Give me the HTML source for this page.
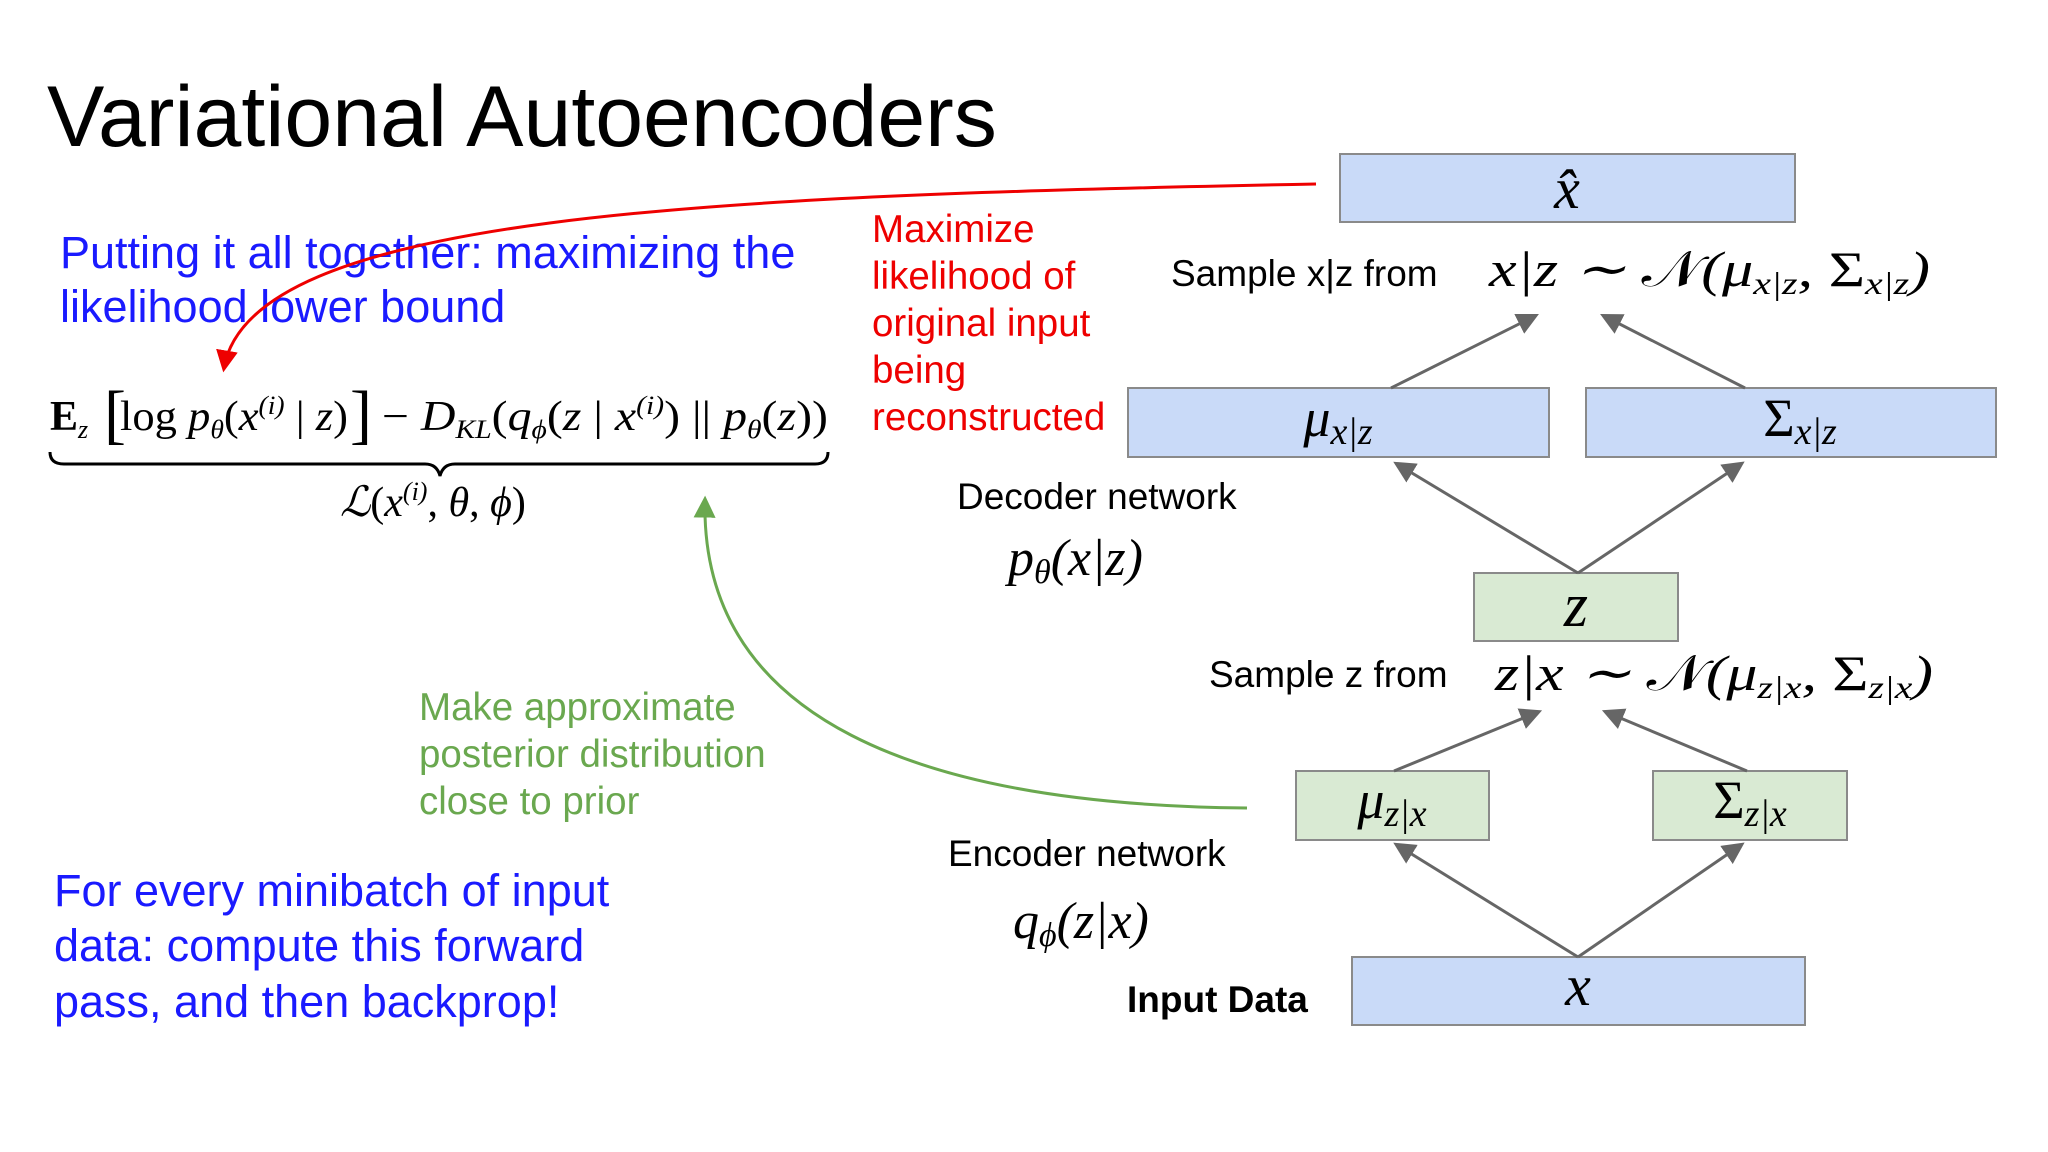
<!DOCTYPE html>
<html><head><meta charset="utf-8"><style>
html,body{margin:0;padding:0;background:#fff}
svg{display:block}
.s{font-family:"Liberation Sans",sans-serif}
.m{font-family:"Liberation Serif",serif;font-style:italic}
</style></head><body>
<svg width="2048" height="1152" viewBox="0 0 2048 1152" xmlns="http://www.w3.org/2000/svg">
<defs>
<marker id="gA" viewBox="0 0 10 10" refX="8" refY="5" markerWidth="22" markerHeight="22" orient="auto" markerUnits="userSpaceOnUse"><path d="M0,0 L10,5 L0,10 z" fill="#6aa84f"/></marker>
<marker id="rA" viewBox="0 0 10 10" refX="8" refY="5" markerWidth="22" markerHeight="22" orient="auto" markerUnits="userSpaceOnUse"><path d="M0,0 L10,5 L0,10 z" fill="#e00"/></marker>
<marker id="gr" viewBox="0 0 10 10" refX="8" refY="5" markerWidth="22" markerHeight="22" orient="auto" markerUnits="userSpaceOnUse"><path d="M0,0 L10,5 L0,10 z" fill="#666"/></marker>
</defs>

<text x="47" y="146" class="s" font-size="86" fill="#000">Variational Autoencoders</text>

<g class="s" font-size="45" fill="#1a1aff">
<text x="60" y="268">Putting it all together: maximizing the</text>
<text x="60" y="322">likelihood lower bound</text>
<text x="54" y="906">For every minibatch of input</text>
<text x="54" y="961">data: compute this forward</text>
<text x="54" y="1017">pass, and then backprop!</text>
</g>

<g class="s" font-size="38.5" fill="#e00">
<text x="872" y="242">Maximize</text>
<text x="872" y="289">likelihood of</text>
<text x="872" y="336">original input</text>
<text x="872" y="383">being</text>
<text x="872" y="430">reconstructed</text>
</g>

<g class="s" font-size="38.5" fill="#6aa84f">
<text x="419" y="720">Make approximate</text>
<text x="419" y="767">posterior distribution</text>
<text x="419" y="814">close to prior</text>
</g>

<!-- equation -->
<g font-family="Liberation Serif,serif" font-size="42" fill="#000">
<text x="50" y="430"><tspan font-weight="bold">E</tspan><tspan font-style="italic" font-size="26" dy="8">z</tspan></text>
<text x="104" y="436" font-size="66">[</text>
<text x="120" y="430" textLength="228" lengthAdjust="spacingAndGlyphs">log <tspan font-style="italic">p</tspan><tspan font-style="italic" font-size="26" dy="8">θ</tspan><tspan dy="-8">(</tspan><tspan font-style="italic">x</tspan><tspan font-style="italic" font-size="26" dy="-16">(i)</tspan><tspan dy="16"> | </tspan><tspan font-style="italic">z</tspan>)</text>
<text x="350" y="436" font-size="66">]</text>
<text x="382" y="430" textLength="446" lengthAdjust="spacingAndGlyphs">− <tspan font-style="italic">D</tspan><tspan font-style="italic" font-size="26" dy="8">KL</tspan><tspan dy="-8">(</tspan><tspan font-style="italic">q</tspan><tspan font-style="italic" font-size="26" dy="8">ϕ</tspan><tspan dy="-8">(</tspan><tspan font-style="italic">z</tspan> | <tspan font-style="italic">x</tspan><tspan font-style="italic" font-size="26" dy="-16">(i)</tspan><tspan dy="16">) || </tspan><tspan font-style="italic">p</tspan><tspan font-style="italic" font-size="26" dy="8">θ</tspan><tspan dy="-8">(</tspan><tspan font-style="italic">z</tspan>))</text>
<path d="M50,452 Q50,464 64,464 L425,464 Q437,464 440,476 Q443,464 455,464 L815,464 Q828,464 828,452" fill="none" stroke="#000" stroke-width="3"/>
<text x="340" y="516"><tspan font-style="italic">ℒ</tspan>(<tspan font-style="italic">x</tspan><tspan font-style="italic" font-size="26" dy="-16">(i)</tspan><tspan dy="16">, </tspan><tspan font-style="italic">θ</tspan>, <tspan font-style="italic">ϕ</tspan>)</text>
</g>

<!-- curves -->
<path d="M1316,184 C700,196 250,215 224,368" fill="none" stroke="#e00" stroke-width="3" marker-end="url(#rA)"/>
<path d="M1247,808 C920,805 700,720 705,500" fill="none" stroke="#6aa84f" stroke-width="3" marker-end="url(#gA)"/>

<!-- boxes -->
<g stroke="#8a8a8a" stroke-width="2">
<rect x="1340" y="154" width="455" height="68" fill="#c9daf8"/>
<rect x="1128" y="388" width="421" height="69" fill="#c9daf8"/>
<rect x="1586" y="388" width="410" height="69" fill="#c9daf8"/>
<rect x="1474" y="573" width="204" height="68" fill="#d9ead3"/>
<rect x="1296" y="771" width="193" height="69" fill="#d9ead3"/>
<rect x="1653" y="771" width="194" height="69" fill="#d9ead3"/>
<rect x="1352" y="957" width="453" height="68" fill="#c9daf8"/>
</g>

<!-- grey arrows -->
<g stroke="#666" stroke-width="3" fill="none" marker-end="url(#gr)">
<line x1="1391" y1="388" x2="1535" y2="316"/>
<line x1="1745" y1="388" x2="1604" y2="316"/>
<line x1="1578" y1="573" x2="1397" y2="464"/>
<line x1="1578" y1="573" x2="1741" y2="464"/>
<line x1="1394" y1="771" x2="1538" y2="712"/>
<line x1="1747" y1="771" x2="1606" y2="712"/>
<line x1="1578" y1="957" x2="1397" y2="845"/>
<line x1="1578" y1="957" x2="1741" y2="845"/>
</g>

<!-- box labels -->
<g class="m" fill="#000" text-anchor="middle">
<text x="1567" y="208" font-size="58">x̂</text>
<text x="1338" y="436" font-size="54">μ<tspan font-size="38" dy="8">x|z</tspan></text>
<text x="1800" y="436" font-size="54" font-style="normal">Σ<tspan font-size="38" font-style="italic" dy="8">x|z</tspan></text>
<text x="1576" y="626" font-size="62">z</text>
<text x="1392" y="818" font-size="54">μ<tspan font-size="38" dy="8">z|x</tspan></text>
<text x="1750" y="818" font-size="54" font-style="normal">Σ<tspan font-size="38" font-style="italic" dy="8">z|x</tspan></text>
<text x="1578" y="1005" font-size="58">x</text>
</g>

<!-- side labels -->
<g class="s" font-size="37" fill="#000">
<text x="1171" y="286">Sample x|z from</text>
<text x="1209" y="687">Sample z from</text>
<text x="957" y="509">Decoder network</text>
<text x="948" y="866">Encoder network</text>
<text x="1127" y="1012" font-weight="bold">Input Data</text>
</g>
<g class="m" fill="#000">
<text x="1489" y="286" font-size="50" textLength="441" lengthAdjust="spacingAndGlyphs">x|z ∼ <tspan font-style="normal">𝒩</tspan>(μ<tspan font-size="32" dy="8">x|z</tspan><tspan dy="-8">, </tspan><tspan font-style="normal">Σ</tspan><tspan font-size="32" dy="8">x|z</tspan><tspan dy="-8">)</tspan></text>
<text x="1495" y="690" font-size="50" textLength="438" lengthAdjust="spacingAndGlyphs">z|x ∼ <tspan font-style="normal">𝒩</tspan>(μ<tspan font-size="32" dy="8">z|x</tspan><tspan dy="-8">, </tspan><tspan font-style="normal">Σ</tspan><tspan font-size="32" dy="8">z|x</tspan><tspan dy="-8">)</tspan></text>
<text x="1008" y="575" font-size="52">p<tspan font-size="34" dy="8">θ</tspan><tspan dy="-8">(x|z)</tspan></text>
<text x="1013" y="938" font-size="52">q<tspan font-size="34" dy="8">ϕ</tspan><tspan dy="-8">(z|x)</tspan></text>
</g>
</svg>
</body></html>
